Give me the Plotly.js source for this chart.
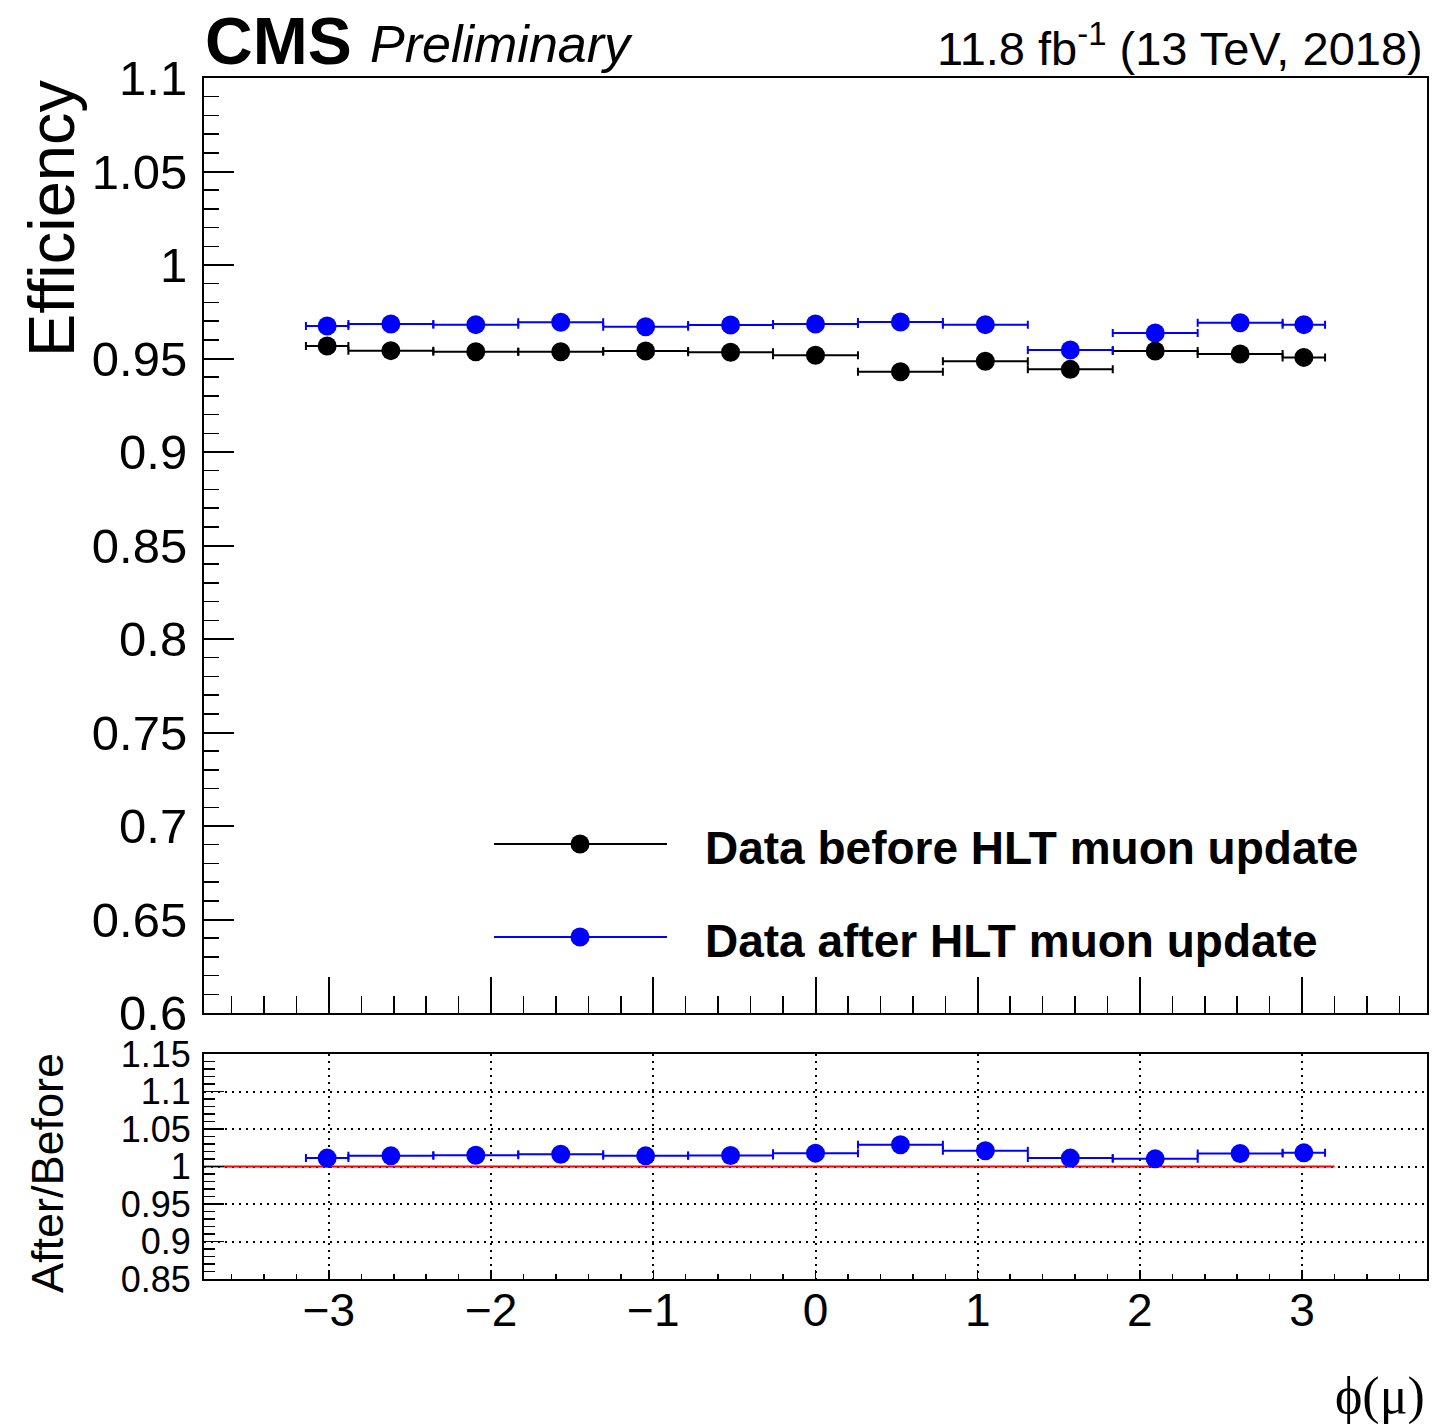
<!DOCTYPE html>
<html><head><meta charset="utf-8">
<script src="https://cdn.plot.ly/plotly-3.0.1.min.js"></script>
<style>html,body{margin:0;padding:0;background:#fff}</style>
</head><body><div id="chart" style="width:1455px;height:1424px"></div>
<script>
// ---- data ----
const phiEdges = [-3.1416, -2.8798, -2.3562, -1.8326, -1.3090, -0.7854, -0.2618, 0.2618, 0.7854, 1.3090, 1.8326, 2.3562, 2.8798, 3.1416];
const effBefore = [0.9567, 0.9542, 0.9536, 0.9536, 0.9540, 0.9533, 0.9517, 0.9429, 0.9485, 0.9442, 0.9540, 0.9524, 0.9506];
const effAfter  = [0.9674, 0.9684, 0.9681, 0.9694, 0.9670, 0.9679, 0.9684, 0.9695, 0.9681, 0.9545, 0.9636, 0.9691, 0.9681];
const ratioAfterBefore = [1.0112, 1.0142, 1.0151, 1.0164, 1.0142, 1.0146, 1.0178, 1.0289, 1.0209, 1.0112, 1.0102, 1.0173, 1.0182];
const seriesNames = ["Data before HLT muon update", "Data after HLT muon update"];
const refLineX = [-3.77, 3.2];
const refLineY = 1.0;

// ---- derived bin centres / half widths ----
const centers = [], halfW = [];
for (let i = 0; i < phiEdges.length - 1; i++) {
  centers.push((phiEdges[i] + phiEdges[i + 1]) / 2);
  halfW.push((phiEdges[i + 1] - phiEdges[i]) / 2);
}

// ---- layout helpers (pixel -> paper) ----
const L = 204, R = 1427, T = 78, B = 1279;
const PX = x => (x - L) / (R - L);
const PY = y => (B - y) / (B - T);
const SANS = "Liberation Sans, Arial, sans-serif";

function pts(y, color, xa, ya) {
  return {
    type: 'scatter', mode: 'markers', x: centers, y: y, xaxis: xa, yaxis: ya,
    marker: {color: color, size: 19, symbol: 'circle'},
    error_x: {type: 'data', symmetric: true, array: halfW, color: color, thickness: 2, width: 4},
    showlegend: false, hoverinfo: 'skip'
  };
}

const data = [
  pts(effBefore, '#000000', 'x2', 'y2'),
  pts(effAfter, '#0000ff', 'x2', 'y2'),
  pts(ratioAfterBefore, '#0000ff', 'x', 'y')
];

const dotGrid = '2px,5px';
const layout = {
  width: 1455, height: 1424,
  margin: {l: L, r: 1455 - R, t: T, b: 1424 - B, pad: 0},
  paper_bgcolor: '#fff', plot_bgcolor: '#fff',
  font: {family: SANS, color: '#000'},
  showlegend: false,
  xaxis: {
    anchor: 'y', range: [-3.77, 3.77], dtick: 1, tick0: 0,
    ticks: 'inside', ticklen: 9, tickwidth: 1.5, tickcolor: '#000',
    minor: {dtick: 0.2, ticks: 'inside', ticklen: 5, tickwidth: 1.5, tickcolor: '#000', showgrid: false},
    showgrid: true, gridcolor: '#000', gridwidth: 2, griddash: dotGrid,
    zeroline: false, showline: true, mirror: true, linecolor: '#000', linewidth: 2,
    tickfont: {family: SANS, size: 46}, ticklabelstandoff: -10
  },
  yaxis: {
    domain: [0, (B - 1054) / (B - T)], range: [0.85, 1.15], dtick: 0.05, tick0: 0,
    ticks: 'inside', ticklen: 20, tickwidth: 1.5, tickcolor: '#000',
    minor: {dtick: 0.01, ticks: 'inside', ticklen: 11, tickwidth: 1.5, tickcolor: '#000', showgrid: false},
    showgrid: true, gridcolor: '#000', gridwidth: 2, griddash: dotGrid,
    zeroline: false, showline: true, mirror: true, linecolor: '#000', linewidth: 2,
    tickfont: {family: SANS, size: 36}, ticklabelstandoff: 4
  },
  xaxis2: {
    anchor: 'y2', matches: 'x', range: [-3.77, 3.77], dtick: 1, tick0: 0,
    ticks: 'inside', ticklen: 36, tickwidth: 2, tickcolor: '#000',
    minor: {dtick: 0.2, ticks: 'inside', ticklen: 17, tickwidth: 1.5, tickcolor: '#000', showgrid: false},
    showticklabels: false, showgrid: false, zeroline: false,
    showline: true, mirror: true, linecolor: '#000', linewidth: 2
  },
  yaxis2: {
    domain: [(B - 1013) / (B - T), 1], range: [0.6, 1.1], dtick: 0.05, tick0: 0,
    ticks: 'inside', ticklen: 30, tickwidth: 2, tickcolor: '#000',
    minor: {dtick: 0.01, ticks: 'inside', ticklen: 15, tickwidth: 1.5, tickcolor: '#000', showgrid: false},
    showgrid: false, zeroline: false,
    showline: true, mirror: true, linecolor: '#000', linewidth: 2,
    tickfont: {family: SANS, size: 49}, ticklabelstandoff: 5
  },
  shapes: [
    {type: 'line', xref: 'x', yref: 'y', x0: refLineX[0], x1: refLineX[1], y0: refLineY, y1: refLineY,
     line: {color: '#ff0000', width: 2}, layer: 'between'},
    // legend
    {type: 'line', xref: 'paper', yref: 'paper', x0: PX(494), x1: PX(667), y0: PY(844), y1: PY(844), line: {color: '#000', width: 2}},
    {type: 'circle', xref: 'paper', yref: 'paper', xsizemode: 'pixel', ysizemode: 'pixel',
     xanchor: PX(580), yanchor: PY(844), x0: -9.5, x1: 9.5, y0: -9.5, y1: 9.5, fillcolor: '#000', line: {width: 0}},
    {type: 'line', xref: 'paper', yref: 'paper', x0: PX(494), x1: PX(667), y0: PY(937), y1: PY(937), line: {color: '#0000ff', width: 2}},
    {type: 'circle', xref: 'paper', yref: 'paper', xsizemode: 'pixel', ysizemode: 'pixel',
     xanchor: PX(580), yanchor: PY(937), x0: -9.5, x1: 9.5, y0: -9.5, y1: 9.5, fillcolor: '#0000ff', line: {width: 0}}
  ],
  annotations: [
    {text: '<b>CMS</b>', xref: 'paper', yref: 'paper', x: PX(203), y: PY(41), xanchor: 'left', yanchor: 'middle',
     showarrow: false, font: {family: SANS, size: 66}},
    {text: '<i>Preliminary</i>', xref: 'paper', yref: 'paper', x: PX(368), y: PY(44), xanchor: 'left', yanchor: 'middle',
     showarrow: false, font: {family: SANS, size: 52}},
    {text: '11.8 fb<sup>-1</sup> (13 TeV, 2018)', xref: 'paper', yref: 'paper', x: PX(1425), y: PY(45), xanchor: 'right', yanchor: 'middle',
     showarrow: false, font: {family: SANS, size: 47}},
    {text: 'Efficiency', xref: 'paper', yref: 'paper', x: PX(52), y: PY(219), xanchor: 'center', yanchor: 'middle',
     textangle: -90, showarrow: false, font: {family: SANS, size: 65}},
    {text: 'After/Before', xref: 'paper', yref: 'paper', x: PX(47), y: PY(1173), xanchor: 'center', yanchor: 'middle',
     textangle: -90, showarrow: false, font: {family: SANS, size: 45}},
    {text: 'ϕ(μ)', xref: 'paper', yref: 'paper', x: PX(1427), y: PY(1396), xanchor: 'right', yanchor: 'middle',
     showarrow: false, font: {family: 'Liberation Serif, serif', size: 52}},
    {text: '<b>' + seriesNames[0] + '</b>', xref: 'paper', yref: 'paper', x: PX(703), y: PY(848), xanchor: 'left', yanchor: 'middle',
     showarrow: false, font: {family: SANS, size: 46}},
    {text: '<b>' + seriesNames[1] + '</b>', xref: 'paper', yref: 'paper', x: PX(703), y: PY(941), xanchor: 'left', yanchor: 'middle',
     showarrow: false, font: {family: SANS, size: 46}}
  ]
};

Plotly.newPlot('chart', data, layout, {staticPlot: true, displayModeBar: false});
</script>
</body></html>
